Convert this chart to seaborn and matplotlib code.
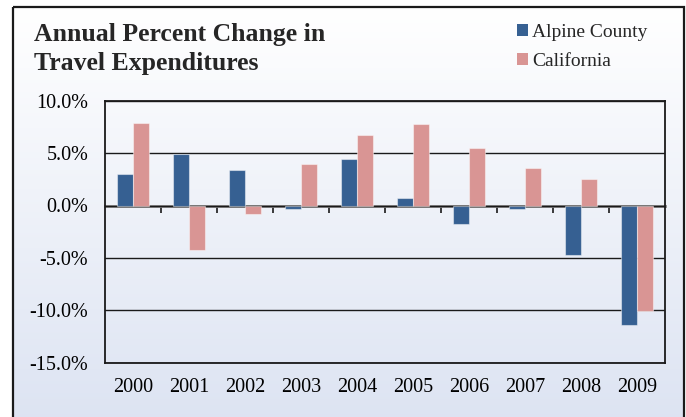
import numpy as np
import pandas as pd
import matplotlib
matplotlib.use("Agg")
import matplotlib.pyplot as plt
from matplotlib.patches import Rectangle, Patch
from matplotlib.colors import LinearSegmentedColormap
import seaborn as sns

# Annual percent change in travel expenditures
years = ["2000", "2001", "2002", "2003", "2004", "2005", "2006", "2007", "2008", "2009"]
alpine = [3.0, 4.9, 3.4, -0.35, 4.45, 0.75, -1.8, -0.35, -4.7, -11.4]
california = [7.85, -4.2, -0.8, 4.0, 6.75, 7.8, 5.5, 3.6, 2.5, -10.05]
series_names = ["Alpine County", "California"]
colors = ["#366092", "#d99594"]
y_ticks = [-15, -10, -5, 0, 5, 10]
title_lines = ["Annual Percent Change in", "Travel Expenditures"]

df = pd.DataFrame({
    "Year": years * 2,
    "Change": alpine + california,
    "Series": [series_names[0]] * len(years) + [series_names[1]] * len(years),
})

sns.set_style("white")
plt.rcParams["font.family"] = ["Liberation Serif", "DejaVu Serif"]

W, H = 686, 417
fig = plt.figure(figsize=(W / 100, H / 100), dpi=100, facecolor="white")

# Framed chart area with a soft vertical gradient
bg = fig.add_axes([0, 0, 1, 1], zorder=-10)
bg.set_xlim(0, W)
bg.set_ylim(H, 0)
bg.axis("off")
fx0, fy0, fx1, fy1 = 13, 7, 684, 430
cmap = LinearSegmentedColormap.from_list("bg", ["#ffffff", "#dce3f2"])
grad = np.linspace(0, 1, 256).reshape(-1, 1)
bg.imshow(grad, cmap=cmap, aspect="auto", extent=[fx0, fx1, fy1, fy0], zorder=0)
bg.add_patch(Rectangle((fx0, fy0), fx1 - fx0, fy1 - fy0, fill=False,
                       edgecolor="#1a1a1a", linewidth=1.6, zorder=1))

# Plot area
left, right, top, bottom = 105, 665, 100.7, 362.7
ax = fig.add_axes([left / W, 1 - bottom / H, (right - left) / W, (bottom - top) / H])
ax.patch.set_alpha(0)

sns.barplot(data=df, x="Year", y="Change", hue="Series", hue_order=series_names,
            palette=colors, width=0.58, saturation=1, ax=ax, legend=False,
            edgecolor=(1, 1, 1, 0.45), linewidth=0.8, zorder=3)

ax.set_ylim(-15, 10)
ax.set_xlim(-0.5, len(years) - 0.5)
ax.set_yticks(y_ticks)
ax.set_yticklabels([f"{v:.1f}%" for v in y_ticks])
ax.yaxis.grid(True, color="#1a1a1a", linewidth=1.0, zorder=0)
ax.set_axisbelow(True)
ax.set_xlabel("")
ax.set_ylabel("")
ax.tick_params(axis="x", length=0, pad=11, labelsize=14.5, colors="black")
ax.tick_params(axis="y", length=0, pad=12, labelsize=14.5, colors="black")
for s in ax.spines.values():
    s.set_color("#1a1a1a")
    s.set_linewidth(1.3)

# Zero axis line with category-boundary tick marks
zero_pos = (0 - (-15)) / 25
sec = ax.secondary_xaxis(zero_pos)
sec.set_alignment("bottom")
sec.set_xticks(np.arange(0.5, len(years) - 0.5, 1.0))
sec.tick_params(axis="x", direction="out", length=5, width=1.2, color="#1a1a1a",
                labelbottom=False, labeltop=False)
sec.spines["bottom"].set_color("#7f7f7f")
sec.spines["bottom"].set_linewidth(2.0)

# Two-line title
for line, base in zip(title_lines, [41, 70]):
    fig.text(34 / W, 1 - base / H, line, ha="left", va="baseline",
             fontsize=18.5, fontweight="bold")

# Legend
handles = [Patch(facecolor=c, edgecolor="none") for c in colors]
fig.legend(handles, series_names, loc="upper left", bbox_to_anchor=(513 / W, 1 - 20 / H),
           frameon=False, fontsize=14, handlelength=0.55, handleheight=0.55,
           handletextpad=0.25, labelspacing=0.62, borderaxespad=0, borderpad=0.2)

fig.savefig("out.png", dpi=100, facecolor="white")
